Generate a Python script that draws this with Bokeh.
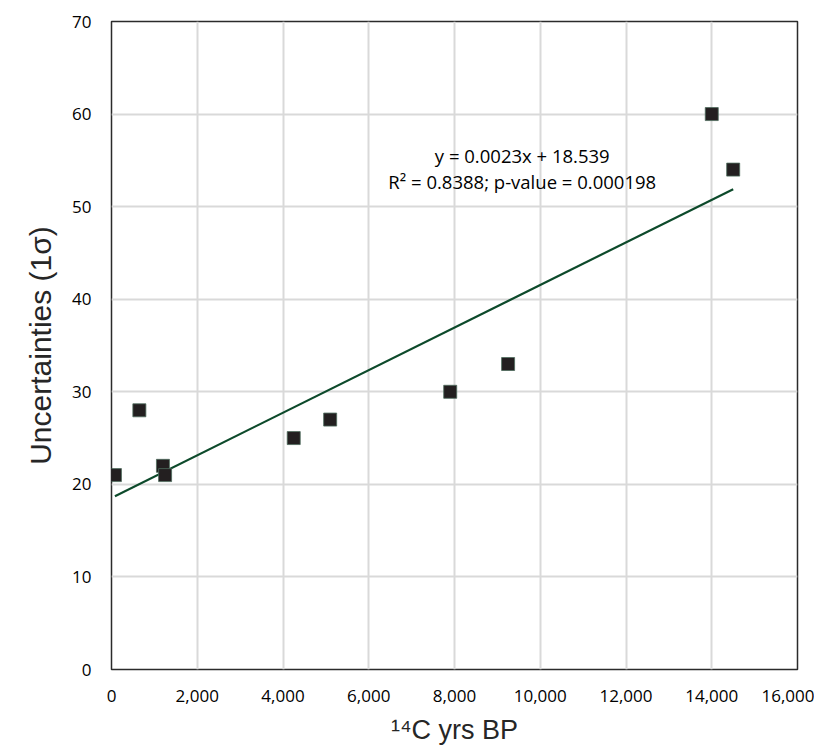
from bokeh.plotting import figure
from bokeh.models import Range1d, NumeralTickFormatter, FixedTicker, Label, ColumnDataSource
from bokeh.embed import file_html
from bokeh.resources import INLINE

# Data
age_bp = [80, 650, 1200, 1250, 4250, 5100, 7900, 9250, 14000, 14500]
uncert = [21, 28, 22, 21, 25, 27, 30, 33, 60, 54]
slope = 0.0023
intercept = 18.539
eq_text = "y = 0.0023x + 18.539"
r2_text = "R\u00b2 = 0.8388; p-value = 0.000198"
x_ticks = [0, 2000, 4000, 6000, 8000, 10000, 12000, 14000, 16000]
y_ticks = [0, 10, 20, 30, 40, 50, 60, 70]

p = figure(width=814, height=748, output_backend="svg", toolbar_location=None,
           x_range=Range1d(0, 16000), y_range=Range1d(0, 70),
           min_border_left=111, min_border_top=21, min_border_right=17, min_border_bottom=79)

p.outline_line_color = "#2b2b2b"
p.outline_line_width = 1.5
p.background_fill_color = "white"
p.border_fill_color = "white"

for ax in (p.xaxis[0], p.yaxis[0]):
    ax.axis_line_color = None
    ax.major_tick_line_color = None
    ax.minor_tick_line_color = None
    ax.major_label_text_font = "Open Sans"
    ax.major_label_text_font_size = "17px"
    ax.major_label_text_color = "#000000"
    ax.axis_label_text_font = "Liberation Sans"
    ax.axis_label_text_font_style = "normal"
    ax.axis_label_text_color = "#262626"

p.xaxis.ticker = FixedTicker(ticks=x_ticks)
p.yaxis.ticker = FixedTicker(ticks=y_ticks)
p.xaxis.formatter = NumeralTickFormatter(format="0,0")
p.xaxis.major_label_standoff = 14
p.yaxis.major_label_standoff = 14
p.xaxis.axis_label = "\u00b9\u2074C yrs BP"
p.xaxis.axis_label_text_font_size = "27px"
p.xaxis.axis_label_standoff = 10
p.yaxis.axis_label = "Uncertainties (1\u03c3)"
p.yaxis.axis_label_text_font_size = "30px"
p.yaxis.axis_label_standoff = 12

p.xgrid.grid_line_color = "#d9d9d9"
p.ygrid.grid_line_color = "#d9d9d9"
p.xgrid.grid_line_width = 2
p.ygrid.grid_line_width = 2

# Trend line computed from regression coefficients across data range
xs = [min(age_bp), max(age_bp)]
ys = [slope * x + intercept for x in xs]
p.line(xs, ys, line_color="#0d4a2b", line_width=2.2)

src = ColumnDataSource(dict(x=age_bp, y=uncert))
p.scatter("x", "y", source=src, marker="square", size=13,
          fill_color="#231f20", line_color="#4d6b5c", line_width=0.8)

p.add_layout(Label(x=9580, y=55.5, text=eq_text, text_align="center", text_baseline="middle",
                   text_font="Open Sans", text_font_size="18.5px", text_color="#000000"))
p.add_layout(Label(x=9580, y=52.7, text=r2_text, text_align="center", text_baseline="middle",
                   text_font="Open Sans", text_font_size="18.5px", text_color="#000000"))

open("out.html", "w").write(file_html(p, INLINE))
